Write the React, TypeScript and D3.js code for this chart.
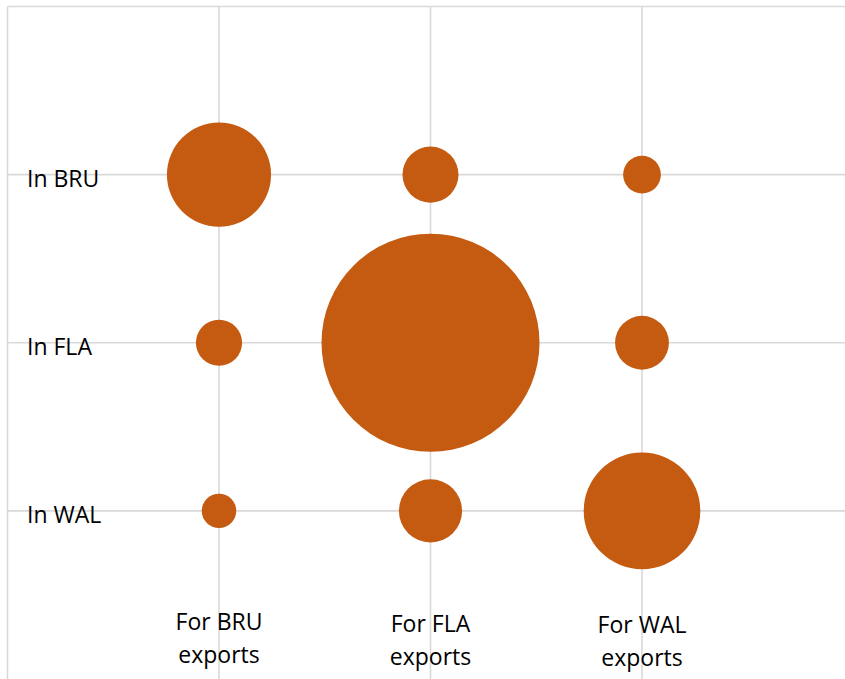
import React, { useEffect, useRef } from "react";
import * as d3 from "d3";

const regions = ["In WAL", "In FLA", "In BRU"]; // y = 1,2,3
const exportCols = [["For BRU", "exports"], ["For FLA", "exports"], ["For WAL", "exports"]]; // x = 1,2,3
const xVals = [1, 2, 3, 1, 2, 3, 1, 2, 3];
const yVals = [3, 3, 3, 2, 2, 2, 1, 1, 1];
const sizes = [22.8, 6.6, 3.0, 4.5, 100, 6.1, 2.5, 8.4, 28.6];

const W = 845;
const H = 679;

export default function App() {
  const ref = useRef<SVGSVGElement>(null);
  useEffect(() => {
    const svg = d3.select(ref.current);
    svg.selectAll("*").remove();
    const x = d3.scaleLinear().domain([0, 4]).range([7.5, 853.5]);
    const y = d3.scaleLinear().domain([0, 4]).range([679, 6.5]);
    const r = d3.scaleSqrt().domain([0, d3.max(sizes) as number]).range([0, 109]);
    const grid = "#d9d9d9";
    const g = svg.append("g");
    [0, 1, 2, 3].forEach((v) => {
      g.append("line").attr("x1", x(v)).attr("x2", x(v)).attr("y1", y(4)).attr("y2", H)
        .attr("stroke", grid).attr("stroke-width", 1.6);
    });
    [1, 2, 3, 4].forEach((v) => {
      g.append("line").attr("x1", x(0)).attr("x2", W).attr("y1", y(v)).attr("y2", y(v))
        .attr("stroke", grid).attr("stroke-width", 1.6);
    });
    regions.forEach((lab, i) => {
      svg.append("text").attr("x", 27).attr("y", y(i + 1)).attr("dy", "0.53em")
        .attr("font-family", "'Open Sans', sans-serif").attr("font-size", 23)
        .attr("fill", "#000").text(lab);
    });
    exportCols.forEach((lines, i) => {
      const t = svg.append("text").attr("text-anchor", "middle")
        .attr("font-family", "'Open Sans', sans-serif").attr("font-size", 23).attr("fill", "#000");
      lines.forEach((ln, j) => {
        t.append("tspan").attr("x", x(i + 1)).attr("y", 630 + i * 1.5 + j * 33).text(ln);
      });
    });
    svg.append("g").selectAll("circle").data(sizes).join("circle")
      .attr("cx", (_d, i) => x(xVals[i]))
      .attr("cy", (_d, i) => y(yVals[i]))
      .attr("r", (d) => r(d))
      .attr("fill", "#C55A11");
  }, []);
  return (
    <svg ref={ref} width={W} height={H}
      style={{ position: "absolute", left: 0, top: 0, background: "#fff" }} />
  );
}
